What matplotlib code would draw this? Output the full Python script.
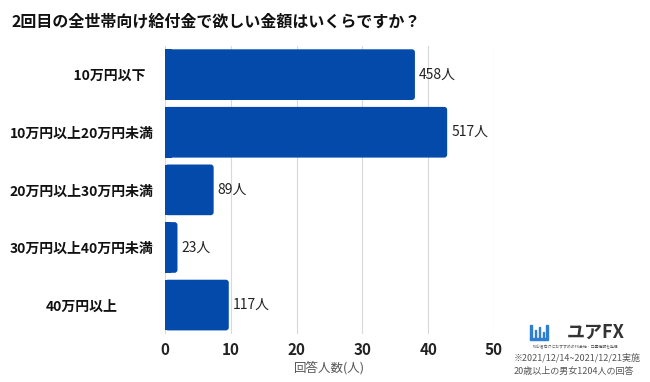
import matplotlib
matplotlib.use("Agg")
import matplotlib.pyplot as plt
import matplotlib.patches as mpatches

plt.rcParams['font.family'] = ['Noto Sans CJK JP', 'DejaVu Sans']

# データ
categories = ["　　　　10万円以下", "10万円以上20万円未満", "20万円以上30万円未満",
              "30万円以上40万円未満", "40万円以上"]
counts = [458, 517, 89, 23, 117]
percents = [38.0, 42.9, 7.4, 1.9, 9.7]
x_ticks = [0, 10, 20, 30, 40, 50]

BAR_COLOR = '#034AAA'
GRID_COLOR = '#D9D9D9'
LOGO_COLOR = '#2F7FD0'
BAR_H = 0.88

fig = plt.figure(figsize=(6.5, 3.82), dpi=100)
ax = fig.add_axes([0.2538, 0.126, 0.506, 0.754])

ypos = list(range(len(categories)))
bars = ax.barh(ypos, percents, height=BAR_H, color=BAR_COLOR, zorder=3)

# 右端だけ角丸にする
for b in bars:
    x0, y0 = b.get_x(), b.get_y()
    w, h = b.get_width(), b.get_height()
    b.set_visible(False)
    ax.add_patch(mpatches.FancyBboxPatch((x0, y0), w, h,
                                         boxstyle="round,pad=0,rounding_size=0.45",
                                         mutation_aspect=0.114, color=BAR_COLOR, zorder=3,
                                         linewidth=0))
    ax.add_patch(mpatches.Rectangle((x0, y0), min(w / 2, 1.0), h, color=BAR_COLOR,
                                    zorder=3, linewidth=0))

for y, p, c in zip(ypos, percents, counts):
    ax.text(p + 0.6, y, f"{c}人", va='center', ha='left', fontsize=10, color='#222222')

ax.set_xlim(0, 50)
ax.set_ylim(4.5, -0.5)
ax.set_xticks(x_ticks)
ax.set_xticklabels([str(t) for t in x_ticks], fontsize=11, fontweight='bold', color='#222222')
ax.set_yticks(ypos)
ax.set_yticklabels(categories, fontsize=10, fontweight='bold', color='#111111', ha='center')
ax.tick_params(axis='both', length=0)
ax.tick_params(axis='y', pad=60)
ax.tick_params(axis='x', pad=6)
ax.xaxis.grid(True, color=GRID_COLOR, linewidth=0.8, zorder=0)
for s in ax.spines.values():
    s.set_visible(False)
ax.set_xlabel("回答人数(人)", fontsize=9, color='#555555', labelpad=2)

# タイトル
fig.text(0.018, 0.945, "2回目の全世帯向け給付金で欲しい金額はいくらですか？",
         fontsize=11.5, fontweight='bold', color='#111111', va='center', ha='left')

# ロゴ
def fig_rect(x0, y0, w, h):
    fig.patches.append(mpatches.Rectangle((x0 / 650, 1 - y0 / 382), w / 650, h / 382,
                                          transform=fig.transFigure, color=LOGO_COLOR, zorder=5))

fig_rect(530, 339, 1.6, 14)     # 左の縦線
fig_rect(530, 339.5, 18, 1.6)   # 底線
for bx, bh in [(534.5, 8), (538.5, 11), (542.5, 6), (546, 13)]:
    fig_rect(bx, 338, 1.5, bh)

fig.text(567 / 650, 1 - 332 / 382, "ユアFX", fontsize=13, fontweight='bold', color='#333333',
         va='center', ha='left')
fig.text(576 / 650, 1 - 347 / 382, "初心者向けにおすすめのFX会社・口座情報を発信", fontsize=2.8,
         color='#555555', va='center', ha='center')
fig.text(0.79, 0.063, "※2021/12/14~2021/12/21実施", fontsize=6.5, color='#555555',
         va='center', ha='left')
fig.text(0.79, 0.028, "20歳以上の男女1204人の回答", fontsize=6.5, color='#555555',
         va='center', ha='left')

fig.savefig("out.png", dpi=100)
